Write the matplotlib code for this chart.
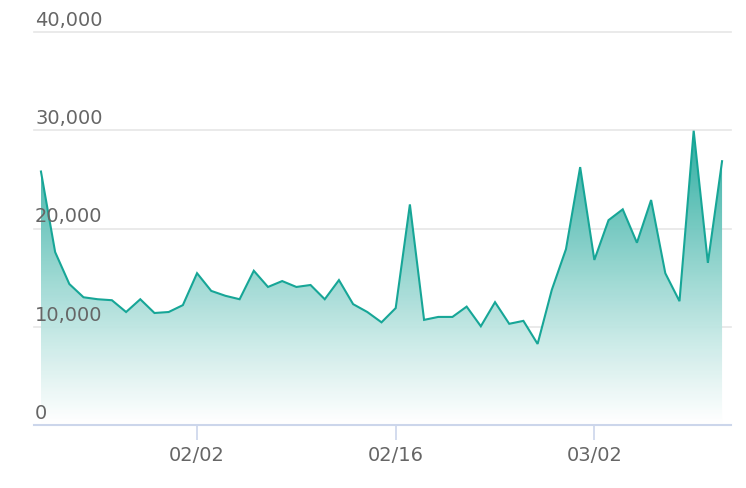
import matplotlib
matplotlib.use("Agg")
import matplotlib.pyplot as plt
import matplotlib.dates as mdates
import numpy as np
import pandas as pd
from matplotlib.colors import LinearSegmentedColormap

# Daily values.
dates = pd.date_range("2021-01-22", periods=49, freq="D")
values = [
    25800, 17600, 14350, 13000, 12800, 12700, 11500, 12800, 11400, 11500,
    12200, 15450, 13650, 13150, 12800, 15700, 14050, 14650, 14050, 14250,
    12800, 14750, 12300, 11500, 10450, 11900, 22450, 10700, 11000, 11000,
    12050, 10050, 12500, 10300, 10600, 8250, 13750, 17900, 26250, 16800,
    20850, 21950, 18550, 22900, 15450, 12600, 29950, 16500, 26850,
]
y_ticks = [0, 10000, 20000, 30000, 40000]
x_ticks = ["2021-02-02", "2021-02-16", "2021-03-02"]

LINE = "#17a697"
AXIS = "#ccd6eb"
GRID = "#e6e6e6"
TEXT = "#666666"


def main():
    fig = plt.figure(figsize=(7.46, 4.88), dpi=100)
    ax = fig.add_axes([34 / 746, 63 / 488, 697 / 746, 393 / 488])

    x = mdates.date2num(dates)
    y = np.array(values)
    x0 = x[0] - 0.49
    x1 = x[-1] + 0.63

    # gradient fill under the line
    poly = ax.fill_between(x, y, 0, color="none", lw=0)
    cmap = LinearSegmentedColormap.from_list("g", ["#ffffff", "#22a99c"])
    grad = np.linspace(0, 1, 256).reshape(-1, 1) ** 1.1
    img = ax.imshow(grad, cmap=cmap, aspect="auto", origin="lower",
                    extent=[x[0], x[-1], 0, y.max()], zorder=1, alpha=0.95)
    img.set_clip_path(poly.get_paths()[0], transform=ax.transData)
    ax.set_xlim(x0, x1)
    ax.set_ylim(0, 40000)

    ax.plot(x, y, color=LINE, lw=1.5, zorder=3, solid_joinstyle="miter")

    # grid and axes
    for v in y_ticks[1:]:
        ax.axhline(v, color=GRID, lw=1.2, zorder=0, clip_on=False)
    ax.set_yticks([])
    for s in ["top", "left", "right"]:
        ax.spines[s].set_visible(False)
    ax.spines["bottom"].set_color(AXIS)
    ax.spines["bottom"].set_linewidth(1.5)
    ax.spines["bottom"].set_zorder(4)

    for v in y_ticks:
        ax.annotate(f"{v:,}", xy=(0.0015, v), xycoords=ax.get_yaxis_transform(),
                    xytext=(0, 1.5), textcoords="offset points",
                    ha="left", va="bottom", fontsize=14, color=TEXT)

    tick_pos = mdates.date2num(pd.to_datetime(x_ticks))
    ax.set_xticks(tick_pos)
    ax.set_xticklabels([pd.Timestamp(t).strftime("%m/%d") for t in x_ticks])
    ax.tick_params(axis="x", length=11, width=1.2, color=AXIS, labelsize=14,
                   labelcolor=TEXT, pad=4)

    fig.savefig("out.png", dpi=100)


if __name__ == "__main__":
    main()
